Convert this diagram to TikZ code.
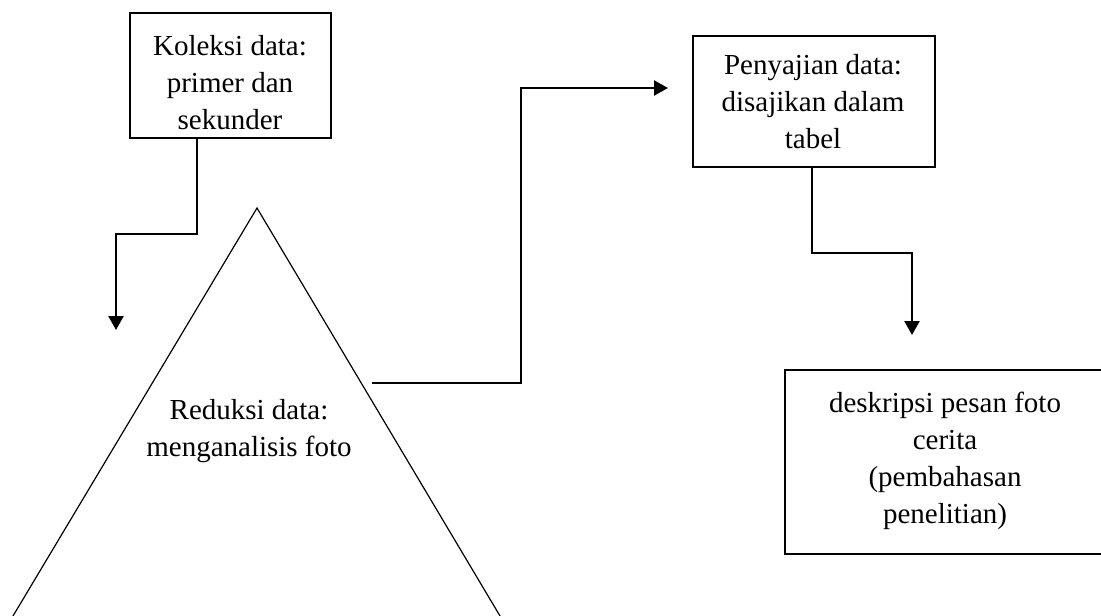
\documentclass[tikz,border=0pt]{standalone}
\usepackage{fontspec}
\setmainfont{Liberation Serif}
\usetikzlibrary{arrows.meta}
\begin{document}
\begin{tikzpicture}[x=1pt,y=-1pt,
  boxshape/.style={draw,line width=1.8pt,inner sep=0pt},
  txt/.style={align=center,inner sep=0pt,font=\fontsize{29}{37}\selectfont},
  conn/.style={line width=2.5pt,-{Triangle[length=14pt,width=15pt]}},
  tri/.style={line width=1.2pt}]
\useasboundingbox (0,0) rectangle (1101,616);
% boxes
\node[boxshape,minimum width=201pt,minimum height=125pt] (k) at (230.5,75.5) {};
\node[txt] (kt) at (230,83) {Koleksi data:\\primer dan\\sekunder};
\node[boxshape,minimum width=242pt,minimum height=131pt] (p) at (814,101.5) {};
\node[txt] (pt) at (813,102) {Penyajian data:\\disajikan dalam\\tabel};
\node[boxshape,minimum width=319pt,minimum height=184pt] (d) at (944.5,462) {};
\node[txt] (dt) at (945,460.5) {deskripsi pesan foto\\cerita\\(pembahasan\\penelitian)};
% triangle
\coordinate (apex) at (257,208);
\coordinate (triL) at (10.6,620);
\coordinate (triR) at (502.4,620);
\draw[tri] (triL) -- (apex) -- (triR);
\node[txt] (rt) at (249,431.5) {Reduksi data:\\menganalisis foto};
% connector endpoints
\coordinate (redIn) at (116,330);
\coordinate (redOut) at (372,383);
\coordinate (penIn) at (668,88);
\coordinate (descIn) at (912,335);
% connectors
\draw[conn] ([xshift=-33.5pt]k.south) -- ++(0,95) -| (redIn);
\draw[conn] (redOut) -- ++(149,0) |- (penIn);
\draw[conn] ([xshift=-2pt]p.south) -- ++(0,85) -| (descIn);
\end{tikzpicture}
\end{document}
